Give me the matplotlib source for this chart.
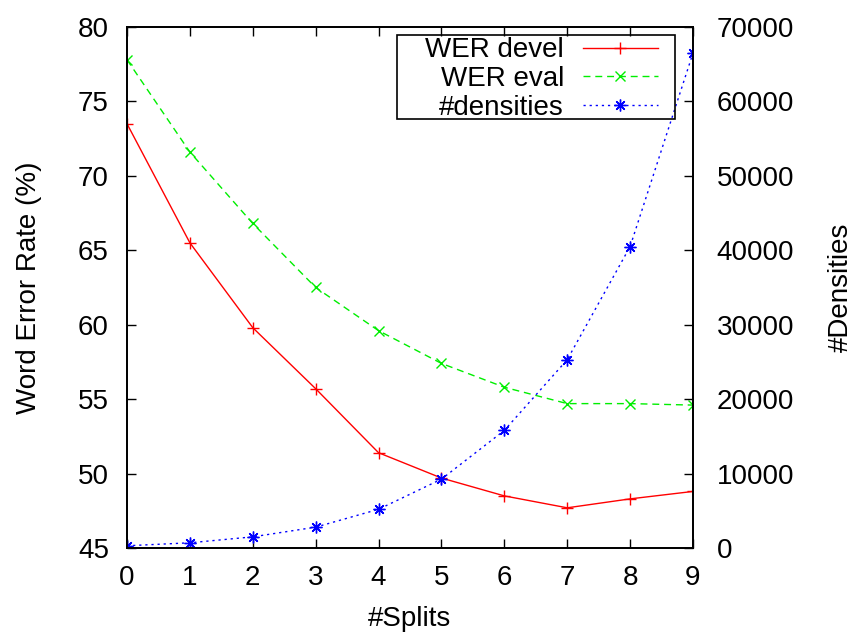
#!/usr/bin/env python3

import matplotlib
matplotlib.use('Agg')
import matplotlib.pyplot as plt
from matplotlib.patches import Rectangle
matplotlib.rcParams['font.family'] = ['Liberation Sans', 'DejaVu Sans']

# ======================================================================

splits = [0, 1, 2, 3, 4, 5, 6, 7, 8, 9]
wer_devel = [73.5, 65.5, 59.8, 55.7, 51.4, 49.7, 48.5, 47.7, 48.3, 48.8]
wer_eval = [77.8, 71.6, 66.8, 62.5, 59.6, 57.4, 55.8, 54.7, 54.7, 54.6]
densities = [300, 700, 1500, 2800, 5200, 9250, 15800, 25300, 40500, 66500]

wer_ticks = [45, 50, 55, 60, 65, 70, 75, 80]
dens_ticks = [0, 10000, 20000, 30000, 40000, 50000, 60000, 70000]


def main():
    fig = plt.figure(figsize=(8.54, 6.32), dpi=100)
    ax = fig.add_axes([127 / 854, 1 - 548 / 632, 566 / 854, 521 / 632])
    ax2 = ax.twinx()

    l1, = ax.plot(splits, wer_devel, color='#ff0000', lw=1.0, ls='-',
                  marker='+', ms=8.5, mew=1.0, label='WER devel')
    l2, = ax.plot(splits, wer_eval, color='#00ee00', lw=1.0, ls=(0, (5, 3.5)),
                  marker='x', ms=7.5, mew=1.0, label='WER eval')
    l3, = ax2.plot(splits, densities, color='#0000ff', lw=1.0, ls=(0, (1.6, 2.8)),
                   marker=(8, 2, 0), ms=8.5, mew=1.0, label='#densities')

    ax.set_xlim(0, 9)
    ax.set_ylim(45, 80)
    ax2.set_ylim(0, 70000)
    ax.set_xticks(splits)
    ax.set_yticks(wer_ticks)
    ax2.set_yticks(dens_ticks)

    for a in (ax, ax2):
        for s in a.spines.values():
            s.set_linewidth(1.3)
    ax.tick_params(axis='x', direction='in', length=6.5, width=1.0,
                   top=True, labelsize=20, pad=12)
    ax.tick_params(axis='y', direction='in', length=6.5, width=1.0,
                   right=False, labelsize=20, pad=13)
    ax2.tick_params(axis='y', direction='in', length=6.5, width=1.0,
                    labelsize=20, pad=17)

    ax.set_xlabel('#Splits', fontsize=20, labelpad=11)
    ax.set_ylabel('Word Error Rate (%)', fontsize=20, labelpad=26)
    ax2.set_ylabel('#Densities', fontsize=20, labelpad=24)

    # gnuplot style key: text first, right aligned, boxed
    ax2.legend(handles=[l1, l2, l3], loc='upper right',
               bbox_to_anchor=(0.938, 0.98), borderaxespad=0,
               markerfirst=False, fontsize=20, handlelength=2.7,
               handletextpad=0.68, labelspacing=0.1, borderpad=0,
               frameon=False)
    ax2.add_patch(Rectangle((0.477, 0.8234), 0.491, 0.1612,
                            transform=ax2.transAxes, fill=False,
                            edgecolor='black', lw=1.2, zorder=5))

    fig.savefig('out.png', dpi=100)


# ======================================================================

if __name__ == '__main__':
    main()
